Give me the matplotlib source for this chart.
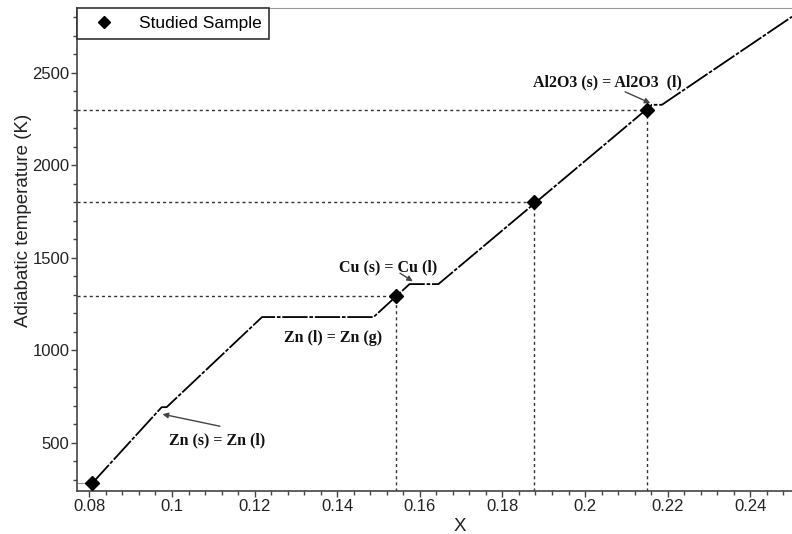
import numpy as np
import matplotlib.pyplot as plt
from matplotlib.ticker import MultipleLocator, FormatStrFormatter

# adiabatic temperature curve
curve_x = [0.0806, 0.0975, 0.0987, 0.1218, 0.1488, 0.1575, 0.1645, 0.2162, 0.2186, 0.2501]
curve_y = [280, 693, 693, 1180, 1180, 1358, 1358, 2327, 2327, 2803]

# studied samples
sample_x = [0.0806, 0.1542, 0.1877, 0.2150]
sample_y = [285, 1295, 1800, 2297]

# phase change labels: text, text pos, arrow tail, arrow head
labels = ['Zn (s) = Zn (l)', 'Zn (l) = Zn (g)', 'Cu (s) = Cu (l)', 'Al2O3 (s) = Al2O3  (l)']
label_pos = [(0.1109, 515), (0.1390, 1066), (0.1523, 1450), (0.2054, 2450)]
arrow_tail = [(0.1116, 590), None, (0.1552, 1417), (0.2097, 2397)]
arrow_head = [(0.0977, 655), None, (0.1583, 1373), (0.2158, 2336)]

plt.rcParams['font.family'] = ['Liberation Sans', 'DejaVu Sans']

fig = plt.figure(figsize=(7.92, 5.34), dpi=100)
ax = fig.add_axes([77/792, 43/534, 1 - 77/792, 483/534])

x0, x1 = 0.077, 0.2501
y0, y1 = 240, 2850

# guide lines from samples to the axes
for i, (sx, sy) in enumerate(zip(sample_x, sample_y)):
    if i == 0:
        ax.plot([x0, sx], [sy, sy], color='#999999', lw=0.8, zorder=1)
        continue
    ax.plot([x0, sx], [sy, sy], color='#333333', lw=1, ls=(0, (2.2, 2.2)), zorder=1)
    ax.plot([sx, sx], [y0, sy], color='#333333', lw=1, ls=(0, (2.2, 2.2)), zorder=1)

ax.plot(curve_x, curve_y, color='black', lw=1.3, ls=(0, (14, 1, 2, 1)), zorder=2)
ax.plot(sample_x, sample_y, ls='none', marker='D', ms=7, color='black',
        label='Studied Sample', zorder=3)

for txt, pos, tail, head in zip(labels, label_pos, arrow_tail, arrow_head):
    ax.text(pos[0], pos[1], txt, ha='center', va='center', fontsize=11.5,
            fontweight='bold', family='Liberation Serif', color='#111111')
    if tail is not None:
        ax.annotate('', xy=head, xytext=tail,
                    arrowprops=dict(arrowstyle='-|>', color='#444444', lw=1,
                                    mutation_scale=8, shrinkA=0, shrinkB=0))

ax.set_xlim(x0, x1)
ax.set_ylim(y0, y1)
ax.xaxis.set_major_locator(MultipleLocator(0.02))
ax.xaxis.set_minor_locator(MultipleLocator(0.004))
ax.xaxis.set_major_formatter(FormatStrFormatter('%g'))
ax.yaxis.set_major_locator(MultipleLocator(500))
ax.yaxis.set_minor_locator(MultipleLocator(100))

ax.tick_params(which='major', length=4, width=1, pad=1.5, color='#444444', labelsize=12, labelcolor='#222222')
ax.tick_params(which='minor', length=3, width=1, color='#444444')
ax.spines['right'].set_visible(False)
ax.spines['top'].set_color('#999999')
ax.spines['left'].set_color('#444444')
ax.spines['bottom'].set_color('#444444')
ax.spines['left'].set_linewidth(1.2)
ax.spines['bottom'].set_linewidth(1.2)

ax.set_xlabel('X', fontsize=13.5, color='#222222')
ax.set_ylabel('Adiabatic temperature (K)', fontsize=13.5, color='#222222')
ax.xaxis.set_label_coords(0.536, -0.055)
ax.yaxis.set_label_coords(-0.063, 0.561)

leg = ax.legend(loc='upper left', borderaxespad=0, fontsize=12.5, fancybox=False,
                framealpha=1, edgecolor='#333333', handletextpad=0.9,
                borderpad=0.45, handlelength=2.2, markerscale=0.9)
leg.get_frame().set_linewidth(1.2)

fig.savefig('out.png', dpi=100)
